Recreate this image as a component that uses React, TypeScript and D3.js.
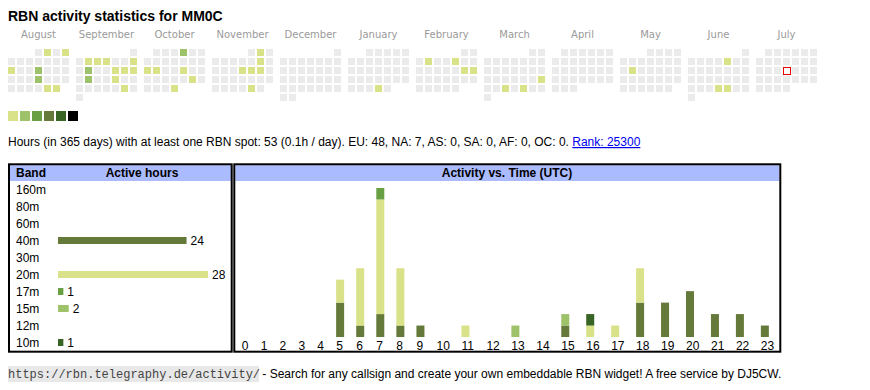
import * as d3 from 'd3'

const title = 'RBN activity statistics for MM0C'
const monthNames = ['August', 'September', 'October', 'November', 'December', 'January', 'February', 'March', 'April', 'May', 'June', 'July']
const firstMonth = new Date(2024, 7, 1)
const today = '2025-07-17'

// days with activity and their colour level
const activeDates = [
  '2024-08-02', '2024-08-04', '2024-08-12', '2024-08-15', '2024-08-22', '2024-08-30', '2024-08-31',
  '2024-09-03', '2024-09-04', '2024-09-05', '2024-09-08', '2024-09-10', '2024-09-13', '2024-09-14', '2024-09-15', '2024-09-17', '2024-09-20', '2024-09-28',
  '2024-10-04', '2024-10-14', '2024-10-15', '2024-10-18', '2024-10-26', '2024-10-31',
  '2024-11-02', '2024-11-09', '2024-11-14', '2024-11-15', '2024-11-16', '2024-11-29',
  '2025-01-30',
  '2025-02-04', '2025-02-07', '2025-02-15', '2025-02-16',
  '2025-03-23', '2025-03-26', '2025-03-28',
  '2025-05-13',
  '2025-06-06', '2025-06-26', '2025-06-27',
]
const activeLevels = [
  1, 1, 1, 2, 2, 1, 1,
  1, 1, 1, 1, 2, 1, 1, 1, 2, 1, 1,
  2, 1, 1, 1, 1, 1,
  1, 1, 1, 1, 1, 1,
  1,
  1, 1, 1, 1,
  1, 1, 1,
  1,
  1, 1, 1,
]
const levelColors = ['#d9e288', '#9dc26a', '#69a044', '#657a3a', '#386524', '#000000']

const statsText = 'Hours (in 365 days) with at least one RBN spot: 53 (0.1h / day). EU: 48, NA: 7, AS: 0, SA: 0, AF: 0, OC: 0. '
const rankText = 'Rank: 25300'

const bands = ['160m', '80m', '60m', '40m', '30m', '20m', '17m', '15m', '12m', '10m']
const bandColors = ['#000000', '#386524', '#69a044', '#657a3a', '#9dc26a', '#d9e288', '#69a044', '#9dc26a', '#d9e288', '#386524']

const hourLabels = ['0', '1', '2', '3', '4', '5', '6', '7', '8', '9', '10', '11', '12', '13', '14', '15', '16', '17', '18', '19', '20', '21', '22', '23']
const hours160 = [0, 0, 0, 0, 0, 0, 0, 0, 0, 0, 0, 0, 0, 0, 0, 0, 0, 0, 0, 0, 0, 0, 0, 0]
const hours80 = [0, 0, 0, 0, 0, 0, 0, 0, 0, 0, 0, 0, 0, 0, 0, 0, 0, 0, 0, 0, 0, 0, 0, 0]
const hours60 = [0, 0, 0, 0, 0, 0, 0, 0, 0, 0, 0, 0, 0, 0, 0, 0, 0, 0, 0, 0, 0, 0, 0, 0]
const hours40 = [0, 0, 0, 0, 0, 3, 1, 2, 1, 1, 0, 0, 0, 0, 0, 1, 0, 0, 3, 3, 4, 2, 2, 1]
const hours30 = [0, 0, 0, 0, 0, 0, 0, 0, 0, 0, 0, 0, 0, 0, 0, 0, 0, 0, 0, 0, 0, 0, 0, 0]
const hours20 = [0, 0, 0, 0, 0, 2, 5, 10, 5, 0, 0, 1, 0, 0, 0, 0, 1, 1, 3, 0, 0, 0, 0, 0]
const hours17 = [0, 0, 0, 0, 0, 0, 0, 1, 0, 0, 0, 0, 0, 0, 0, 0, 0, 0, 0, 0, 0, 0, 0, 0]
const hours15 = [0, 0, 0, 0, 0, 0, 0, 0, 0, 0, 0, 0, 0, 1, 0, 1, 0, 0, 0, 0, 0, 0, 0, 0]
const hours12 = [0, 0, 0, 0, 0, 0, 0, 0, 0, 0, 0, 0, 0, 0, 0, 0, 0, 0, 0, 0, 0, 0, 0, 0]
const hours10 = [0, 0, 0, 0, 0, 0, 0, 0, 0, 0, 0, 0, 0, 0, 0, 0, 1, 0, 0, 0, 0, 0, 0, 0]

const footerUrl = 'https://rbn.telegraphy.de/activity/'
const footerText = ' - Search for any callsign and create your own embeddable RBN widget! A free service by DJ5CW.'

const SANS = '"Liberation Sans", Arial, sans-serif'
const HEADER_BLUE = '#aabbff'

export default function App() {
  const fmt = d3.timeFormat('%Y-%m-%d')
  const levelByDate = new Map(activeDates.map((d, i) => [d, activeLevels[i]]))
  const months = d3.timeMonths(firstMonth, d3.timeMonth.offset(firstMonth, monthNames.length))

  // calendar geometry
  const cell = 7
  const pitch = 9
  const monthX = d3.scaleLinear().domain([0, 1]).range([8, 76])
  const gridTop = 49
  const weekday = (d: Date) => (d.getDay() + 6) % 7

  const calendarCells = months.flatMap((m, mi) => {
    const first = weekday(m)
    return d3.timeDays(m, d3.timeMonth.offset(m, 1)).map(d => {
      const key = fmt(d)
      return {
        key,
        x: monthX(mi) + weekday(d) * pitch,
        y: gridTop + Math.floor((d.getDate() - 1 + first) / 7) * pitch,
        level: levelByDate.get(key) || 0,
      }
    })
  })

  // band table
  const bandSeries = [hours160, hours80, hours60, hours40, hours30, hours20, hours17, hours15, hours12, hours10]
  const bandTotals = bandSeries.map(s => d3.sum(s))
  const bandTop = 181
  const rowH = 17
  const barX = d3.scaleLinear().domain([0, d3.max(bandTotals) as number]).range([0, 150])

  // activity vs time
  const boxL = 235
  const boxR = 779
  const rows = hourLabels.map((h, i) => {
    const r: Record<string, number | string> = { hour: h }
    bands.forEach((b, bi) => { r[b] = bandSeries[bi][i] })
    return r
  })
  const stack = d3.stack<Record<string, number | string>>().keys(bands).value((d, k) => d[k] as number)(rows)
  const totals = rows.map(r => d3.sum(bands, b => r[b] as number))
  const y = d3.scaleLinear().domain([0, d3.max(totals) as number]).range([337, 188])
  const barW = 8
  // html-table-like column widths: depend on the cell content width
  const contentW = hourLabels.map((h, i) => Math.max(h.length * 6.67, totals[i] > 0 ? barW : 0))
  const rawW = contentW.map(c => 12.8 + 0.913 * c)
  const rawSum = d3.sum(rawW)
  const colScale = d3.scaleLinear().domain([0, rawSum]).range([boxL, boxR])
  const colLeft = rawW.map((_, i) => colScale(d3.sum(rawW.slice(0, i))))
  const pad = 6.8

  return (
    <svg width={870} height={390} style={{ position: 'absolute', left: 0, top: 0, background: '#fff' }}
      fontFamily={SANS}>
      <text x={8} y={21} fontSize={14} fontWeight="bold" fill="#000">{title}</text>

      {months.map((m, mi) => (
        <text key={'m' + mi} x={monthX(mi) + (7 * pitch - 2) / 2} y={38} textAnchor="middle"
          fontSize={10} fontFamily='"DejaVu Sans", sans-serif' fill="#9a9a9a">{monthNames[mi]}</text>
      ))}
      {calendarCells.map(c => c.key === today ? (
        <g key={c.key}>
          <rect x={c.x} y={c.y} width={cell + 1} height={cell + 1} fill="#ee0000" />
          <rect x={c.x + 1} y={c.y + 1} width={cell - 1} height={cell - 1} fill="#fff" />
        </g>
      ) : (
        <rect key={c.key} x={c.x} y={c.y} width={cell} height={cell} fill={c.level ? levelColors[c.level - 1] : '#ebebeb'} />
      ))}

      {levelColors.map((c, i) => (
        <rect key={'l' + i} x={8 + i * 12} y={111} width={10} height={10} fill={c} />
      ))}

      <text x={8} y={146} fontSize={12} fill="#000">
        {statsText}
        <tspan fill="#0000ee" textDecoration="underline">{rankText}</tspan>
      </text>

      {/* band table */}
      <rect x={10} y={165.3} width={221} height={15.7} fill={HEADER_BLUE} />
      <rect x={9} y={164.3} width={222.7} height={187.4} fill="none" stroke="#000" strokeWidth={2} />
      <text x={16} y={177.3} fontSize={12} fontWeight="bold">Band</text>
      <text x={142} y={177.3} fontSize={12} fontWeight="bold" textAnchor="middle">Active hours</text>
      {bands.map((b, i) => {
        const cy = bandTop + rowH * i + 8.5
        return (
          <g key={b}>
            <text x={16} y={cy + 4.3} fontSize={12}>{b}</text>
            {bandTotals[i] > 0 && (
              <>
                <rect x={58} y={cy - 3.5} width={barX(bandTotals[i])} height={7} fill={bandColors[i]} />
                <text x={58 + barX(bandTotals[i]) + 4} y={cy + 4.3} fontSize={12}>{bandTotals[i]}</text>
              </>
            )}
          </g>
        )
      })}

      {/* activity vs time */}
      <rect x={235.3} y={165.3} width={544} height={15.7} fill={HEADER_BLUE} />
      <rect x={234.3} y={164.3} width={546} height={187.4} fill="none" stroke="#000" strokeWidth={2} />
      <text x={(boxL + boxR) / 2} y={177.3} fontSize={12} fontWeight="bold" textAnchor="middle">Activity vs. Time (UTC)</text>
      {stack.map((s, si) => (
        <g key={bands[si]} fill={bandColors[si]}>
          {s.map((d, i) => d[1] > d[0] ? (
            <rect key={i} x={colLeft[i] + pad} y={y(d[1])} width={barW} height={y(d[0]) - y(d[1])} />
          ) : null)}
        </g>
      ))}
      {hourLabels.map((h, i) => (
        <text key={'h' + h} x={colLeft[i] + pad} y={350} fontSize={12}>{h}</text>
      ))}

      {/* footer */}
      <rect x={8} y={366} width={251} height={16} fill="#e8e8e8" />
      <text x={8} y={378} fontSize={12} fontFamily='"Liberation Mono", monospace' fill="#444">{footerUrl}</text>
      <text x={259} y={378} fontSize={12} fill="#000" xmlSpace="preserve">{footerText}</text>
    </svg>
  )
}
